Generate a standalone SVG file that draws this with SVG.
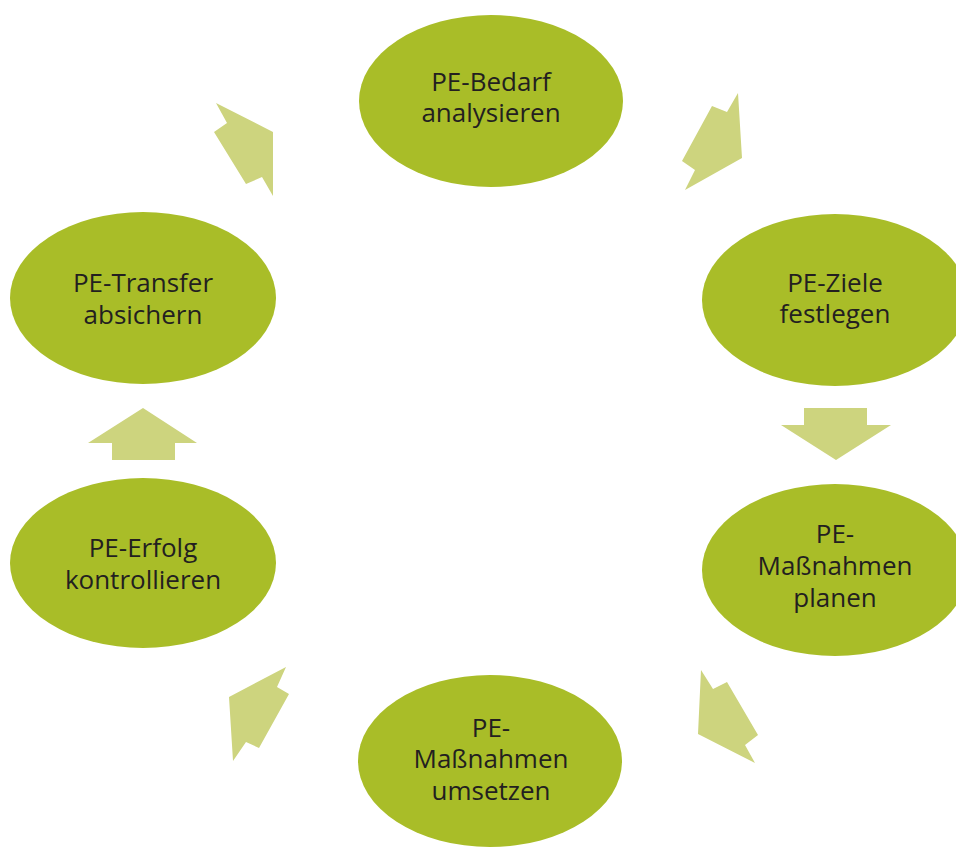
<svg xmlns="http://www.w3.org/2000/svg" width="956" height="848" viewBox="0 0 956 848">
<style>
.node ellipse{fill:#a9bd28}
.node text{font-family:"Open Sans","Noto Sans","Liberation Sans",sans-serif;font-size:26px;fill:#231f20;text-anchor:middle}
.arrow{fill:#cdd47e}
</style>
<rect width="956" height="848" fill="#ffffff"/>
<g id="connectors">
<polygon class="arrow" points="216,103 273,132 273,196 262,177 246,184 214,132 227,123"/>
<polygon class="arrow" points="738,93 742,158 685,190 695,170 682,161 712,106 727,112"/>
<polygon class="arrow" points="804,408 867,408 867,425 891,425 836,460 781,425 804,425"/>
<polygon class="arrow" points="701,670 713,689 727,682 758,735 745,745 755,763 698,734"/>
<polygon class="arrow" points="286,667 277,687 289,694 259,748 246,742 233,761 229,697"/>
<polygon class="arrow" points="143,408 197,443 175,443 175,460 112,460 112,443 88,443"/>
</g>
<g id="node-bedarf" class="node">
<ellipse cx="491" cy="101" rx="132" ry="86"/>
<text x="491" y="91">PE-Bedarf</text>
<text x="491" y="122">analysieren</text>
</g>
<g id="node-ziele" class="node">
<ellipse cx="835" cy="300" rx="133" ry="86"/>
<text x="835" y="292">PE-Ziele</text>
<text x="835" y="323">festlegen</text>
</g>
<g id="node-planen" class="node">
<ellipse cx="835" cy="570" rx="133" ry="86"/>
<text x="835" y="543">PE-</text>
<text x="835" y="575">Maßnahmen</text>
<text x="835" y="607">planen</text>
</g>
<g id="node-umsetzen" class="node">
<ellipse cx="490" cy="761" rx="132" ry="86"/>
<text x="491" y="737">PE-</text>
<text x="491" y="768">Maßnahmen</text>
<text x="491" y="800">umsetzen</text>
</g>
<g id="node-erfolg" class="node">
<ellipse cx="143" cy="563" rx="133" ry="85"/>
<text x="143" y="557">PE-Erfolg</text>
<text x="143" y="589">kontrollieren</text>
</g>
<g id="node-transfer" class="node">
<ellipse cx="143" cy="298" rx="133" ry="86"/>
<text x="143" y="292">PE-Transfer</text>
<text x="143" y="324">absichern</text>
</g>
</svg>
